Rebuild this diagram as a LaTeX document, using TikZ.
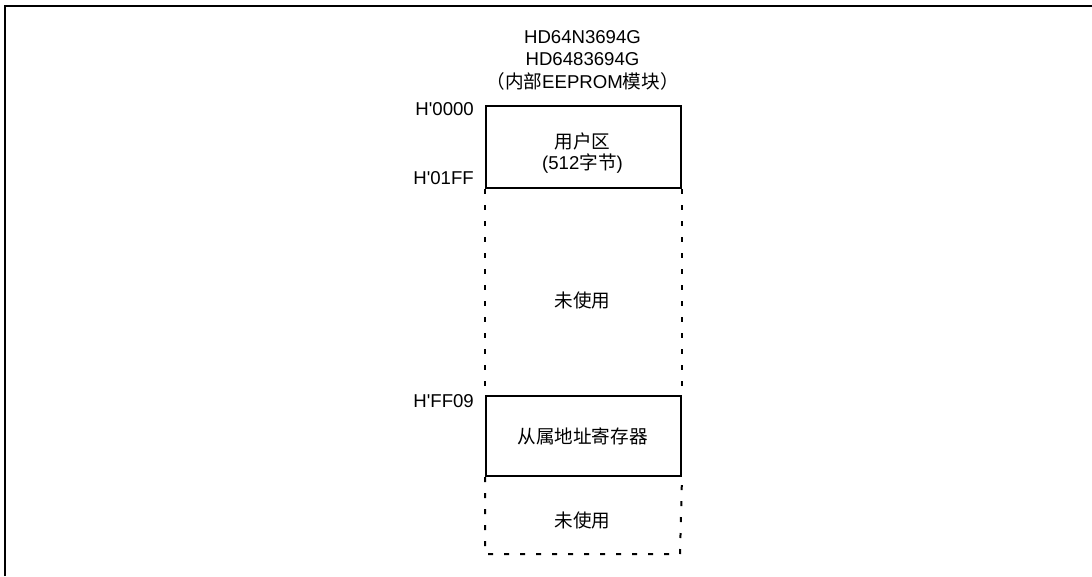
\documentclass[tikz,border=0pt]{standalone}
\usepackage{fontspec}
\setmainfont{Liberation Sans}
\newfontfamily\addrfont{Liberation Sans}
\newfontfamily\cjk{Noto Sans CJK SC}
\begin{document}
\begin{tikzpicture}[x=1pt,y=-1pt,
  every node/.style={font=\fontsize{18.6}{22}\selectfont, inner sep=0pt},
  solidbox/.style={draw, line width=2pt, minimum width=195pt, anchor=north west},
  dashline/.style={line width=2pt, dash pattern=on 5pt off 11pt},
  addr/.style={anchor=east, font=\fontsize{18.6}{22}\addrfont},
  txt/.style={align=center}]
\useasboundingbox (0,0) rectangle (1092,576);
% frame (top and left edges)
\draw[line width=2pt] (5,576) -- (5,5.5) -- (1092,5.5);
% title
\node[txt] (t1) at (582.5,37) {HD64N3694G};
\node[txt] (t2) at (582.5,59.5) {HD6483694G};
\node[txt] (t3) at (582.5,81.5) {{\cjk （内部}EEPROM{\cjk 模块）}};
% boxes
\node[solidbox, minimum height=82pt] (user) at (485,105) {};
\node[solidbox, minimum height=80pt] (reg) at (485,395) {};
\coordinate (bl) at (485,554);
\coordinate (br) at (680,554);
\draw[dashline] (user.south west) -- (reg.north west);
\draw[dashline] (user.south east) -- (reg.north east);
\draw[dashline] (reg.south west) -- (bl) -- (br) -- (reg.south east);
% texts
\node[txt] (u1) at (582.5,141) {\cjk 用户区};
\node[txt] (u2) at (582.5,164) {(512{\cjk 字节})};
\node[txt] (n1) at (582.5,300) {\cjk 未使用};
\node[txt] (r1) at (582.5,436) {\cjk 从属地址寄存器};
\node[txt] (n2) at (582.5,520) {\cjk 未使用};
% addresses
\node[addr] (a1) at (474,109) {H'0000};
\node[addr] (a2) at (474,178) {H'01FF};
\node[addr] (a3) at (474,401.5) {H'FF09};
\end{tikzpicture}
\end{document}
